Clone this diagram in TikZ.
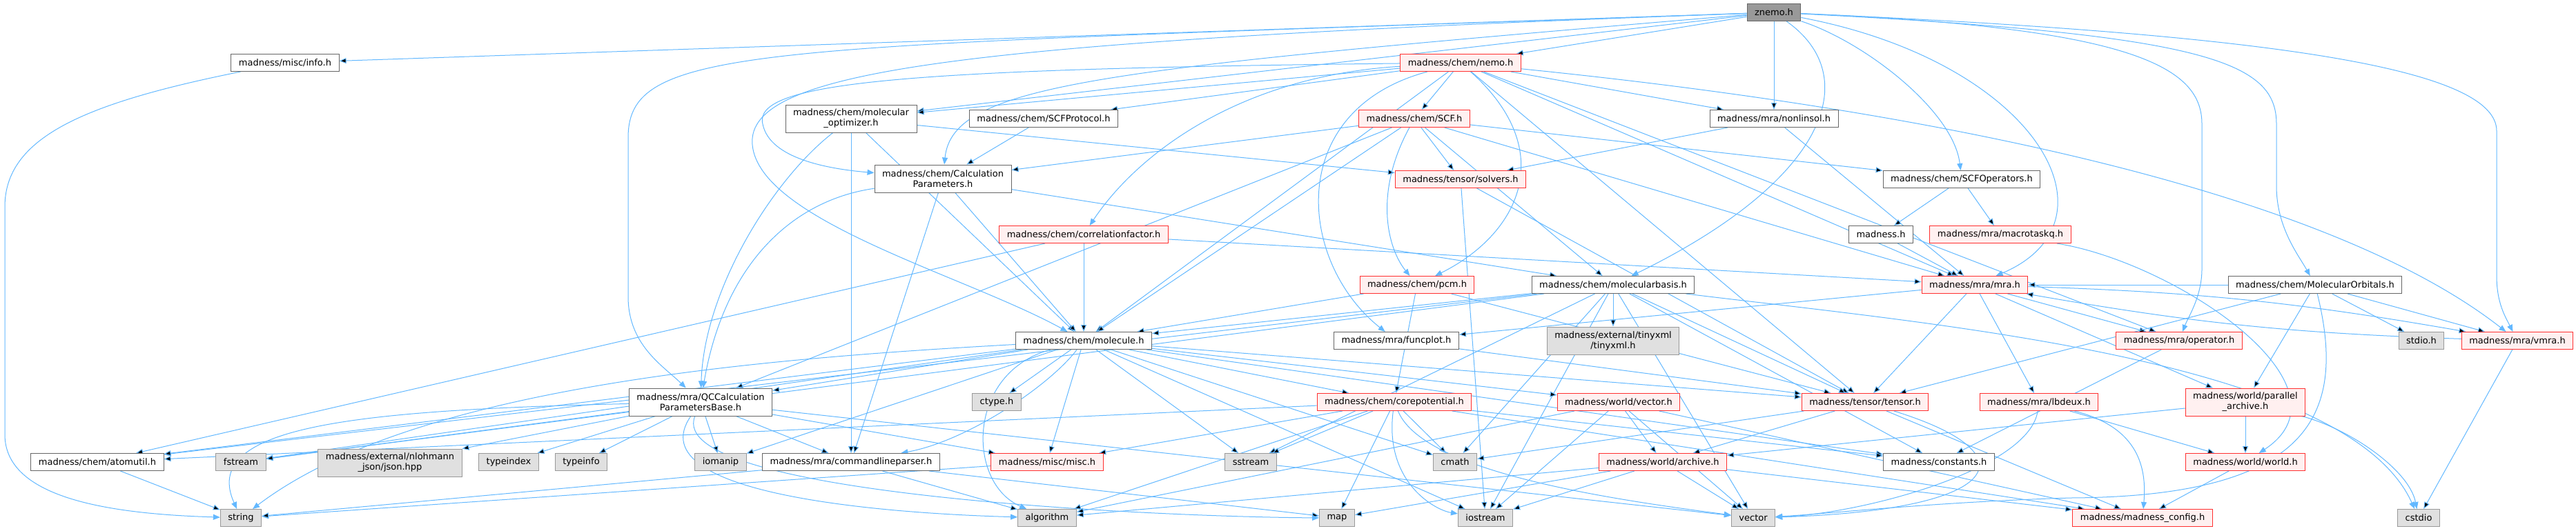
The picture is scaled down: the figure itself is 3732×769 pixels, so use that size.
\documentclass[tikz,border=0pt]{standalone}
\usepackage{fontspec}
\setmainfont{DejaVu Sans}
\usetikzlibrary{arrows.meta, backgrounds}
\definecolor{edgeBlue}{HTML}{63B8FF}
\definecolor{greyForty}{HTML}{666666}
\definecolor{greySixty}{HTML}{999999}
\definecolor{sysFill}{HTML}{E0E0E0}
\definecolor{truncRed}{HTML}{FF3030}
\definecolor{truncFill}{HTML}{FFF0F0}

\begin{document}
\begin{tikzpicture}[x=1pt, y=-1pt,
    file/.style={rectangle, draw=greyForty, fill=white, line width=1pt,
                 font=\fontsize{13}{15}\selectfont, inner xsep=11pt,
                 inner ysep=2pt, minimum height=25pt, align=center},
    sys/.style={file, draw=greySixty, fill=sysFill},
    trunc/.style={file, draw=truncRed, fill=truncFill},
    cur/.style={file, draw=greyForty, fill=greySixty},
    tall/.style={minimum height=40pt},
    dep/.style={draw=edgeBlue, line width=1pt, -{Triangle[length=10pt, width=8pt]}},
  ]
    \useasboundingbox (0,0) rectangle (3732,769);

    % rank 0 - 2
    \node[cur] (znemo) at (2570,18) {znemo.h};
    \node[file] (info) at (413,91) {madness/misc/info.h};
    \node[trunc] (nemo) at (2116,91) {madness/chem/nemo.h};
    \node[file, tall] (molopt) at (1233,172) {madness/chem/molecular\\\_optimizer.h};
    \node[file] (scfprot) at (1512,172) {madness/chem/SCFProtocol.h};
    \node[trunc] (scf) at (2049,172) {madness/chem/SCF.h};
    \node[file] (nonlin) at (2570,172) {madness/mra/nonlinsol.h};
    \node[file, tall] (calcpar) at (1366,259) {madness/chem/Calculation\\Parameters.h};
    \node[trunc] (solvers) at (2116,260) {madness/tensor/solvers.h};
    \node[file] (scfops) at (2842,260) {madness/chem/SCFOperators.h};
    \node[file] (madness) at (2725,340) {madness.h};
    \node[trunc] (macrotq) at (2898,340) {madness/mra/macrotaskq.h};
    \node[trunc] (corrfac) at (1570,340) {madness/chem/correlationfactor.h};

    % rank 3 - 5
    \node[trunc] (pcm) at (2053,413) {madness/chem/pcm.h};
    \node[file] (molbasis) at (2337,413) {madness/chem/molecularbasis.h};
    \node[trunc] (mra) at (2861,413) {madness/mra/mra.h};
    \node[file] (molorb) at (3354,413) {madness/chem/MolecularOrbitals.h};
    \node[file] (molecule) at (1570,494) {madness/chem/molecule.h};
    \node[file] (funcplot) at (2023,494) {madness/mra/funcplot.h};
    \node[sys, tall] (tinyxml) at (2337,494) {madness/external/tinyxml\\/tinyxml.h};
    \node[trunc] (operator) at (3157,494) {madness/mra/operator.h};
    \node[sys] (stdioh) at (3508,494) {stdio.h};
    \node[trunc] (vmra) at (3647,494) {madness/mra/vmra.h};
    \node[file, tall] (qccalc) at (1015,583) {madness/mra/QCCalculation\\ParametersBase.h};
    \node[sys] (ctype) at (1444,583) {ctype.h};
    \node[trunc] (corepot) at (2020,583) {madness/chem/corepotential.h};
    \node[trunc] (wvector) at (2345,583) {madness/world/vector.h};
    \node[trunc] (tensor) at (2702,583) {madness/tensor/tensor.h};
    \node[trunc] (lbdeux) at (2954,583) {madness/mra/lbdeux.h};
    \node[trunc, tall] (pararch) at (3253,583) {madness/world/parallel\\\_archive.h};

    % rank 6 - 7
    \node[file] (atomutil) at (141,670) {madness/chem/atomutil.h};
    \node[sys] (fstream) at (349,670) {fstream};
    \node[sys, tall] (json) at (565,671) {madness/external/nlohmann\\\_json/json.hpp};
    \node[sys] (typeindex) at (737,670) {typeindex};
    \node[sys] (typeinfo) at (842,670) {typeinfo};
    \node[sys] (iomanip) at (1044,670) {iomanip};
    \node[file] (cmdline) at (1233,670) {madness/mra/commandlineparser.h};
    \node[trunc] (misc) at (1517,670) {madness/misc/misc.h};
    \node[sys] (sstream) at (1812,670) {sstream};
    \node[sys] (cmath) at (2108,670) {cmath};
    \node[trunc] (archive) at (2409,670) {madness/world/archive.h};
    \node[file] (constants) at (2809,670) {madness/constants.h};
    \node[trunc] (world) at (3253,670) {madness/world/world.h};
    \node[sys] (string) at (349,751) {string};
    \node[sys] (algorithm) at (1517,751) {algorithm};
    \node[sys] (map) at (1937,751) {map};
    \node[sys] (iostream) at (2152,751) {iostream};
    \node[sys] (vector) at (2540,751) {vector};
    \node[trunc] (config) at (3104,751) {madness/madness\_config.h};
    \node[sys] (cstdio) at (3504,751) {cstdio};

    \begin{scope}[on background layer]
    % straight includes
    \path[dep] (znemo) edge (info) edge (nemo) edge (molopt) edge (nonlin);
    \path[dep] (nemo) edge (molopt) edge (scfprot) edge (scf) edge (nonlin)
      edge (molecule) edge (mra) edge (operator) edge (tensor);
    \path[dep] (molopt) edge (solvers) edge (molecule) edge (cmdline);
    \path[dep] (scfprot) edge (calcpar);
    \path[dep] (scf) edge (calcpar) edge (solvers) edge (scfops) edge (molbasis)
      edge (molecule) edge (qccalc) edge (mra);
    \path[dep] (nonlin) edge (solvers) edge (mra);
    \path[dep] (calcpar) edge (molecule) edge (molbasis) edge (cmdline);
    \path[dep] (solvers) edge (tensor) edge (iostream);
    \path[dep] (scfops) edge (madness) edge (macrotq);
    \path[dep] (madness) edge (mra);
    \path[dep] (corrfac) edge (molecule) edge (atomutil) edge (mra);
    \path[dep] (pcm) edge (molecule) edge (tensor) edge (corepot);
    \path[dep] (molbasis) edge (tinyxml) edge (molecule) edge (tensor) edge (atomutil)
      edge (fstream) edge (sstream) edge (cmath) edge (vector) edge (constants)
      edge (iostream);
    \path[dep] (mra) edge (tensor) edge (lbdeux) edge (operator)
      edge[bend left=4] (vmra) edge (funcplot) edge (pararch);
    \path[dep] (molorb) edge (stdioh) edge (vmra) edge (pararch) edge (tensor)
      edge (mra);
    \path[dep] (vmra) edge[bend left=4] (mra) edge (cstdio);
    \path[dep] (operator) edge (constants);
    \path[dep] (funcplot) edge (tensor);
    \path[dep] (molecule) edge (atomutil) edge (fstream) edge (qccalc) edge (iomanip)
      edge (ctype) edge (misc) edge (sstream) edge (corepot) edge (wvector)
      edge (tensor) edge (cmath) edge (constants) edge (iostream);
    \path[dep] (qccalc) edge (json) edge (typeindex) edge (typeinfo) edge (iomanip)
      edge (cmdline) edge (fstream) edge (misc) edge (vector);
    \path[dep] (corepot) edge (cmath) edge (map) edge (atomutil) edge (sstream)
      edge (constants) edge (algorithm) edge (misc) edge (config);
    \path[dep] (wvector) edge (archive) edge (iostream) edge (vector)
      edge (algorithm) edge (config);
    \path[dep] (tensor) edge (archive) edge (cmath) edge (config);
    \path[dep] (lbdeux) edge (world);
    \path[dep] (pararch) edge (world) edge (archive);
    \path[dep] (world) edge (config);
    \path[dep] (archive) edge (iostream) edge (map) edge (vector) edge (algorithm)
      edge (config);
    \path[dep] (misc) edge (string);
    \path[dep] (cmdline) edge (string) edge (algorithm) edge (map);
    \path[dep] (atomutil) edge (string);

    % routed includes
    \draw[dep] (info) .. controls (120,150) and (7,200) .. (7,300) -- (7,630)
      .. controls (7,720) and (150,745) .. (string);
    \draw[dep] (znemo) .. controls (1100,70) and (910,60) .. (910,200) -- (910,430)
      .. controls (910,500) and (960,530) .. (qccalc);
    \draw[dep] (znemo) .. controls (1400,60) and (1080,100) .. (1090,210)
      .. controls (1100,320) and (1400,400) .. (molecule);
    \draw[dep] (znemo) .. controls (1600,100) and (1380,120) .. (calcpar);
    \draw[dep] (nemo) .. controls (1300,100) and (1090,120) .. (1105,180)
      .. controls (1115,230) and (1200,245) .. (calcpar);
    \draw[dep] (znemo) .. controls (2700,110) and (2650,260) .. (molbasis);
    \draw[dep] (znemo) .. controls (2700,60) and (2830,160) .. (scfops);
    \draw[dep] (znemo) .. controls (2950,90) and (3080,320) .. (mra);
    \draw[dep] (znemo) .. controls (3100,40) and (3190,100) .. (3190,180) -- (3190,390)
      .. controls (3190,430) and (3170,460) .. (operator);
    \draw[dep] (znemo) .. controls (3200,50) and (3298,90) .. (3298,180) -- (3298,270)
      .. controls (3298,330) and (3330,370) .. (molorb);
    \draw[dep] (znemo) .. controls (3300,50) and (3617,100) .. (3617,190) -- (3617,400)
      .. controls (3617,440) and (3630,460) .. (vmra);
    \draw[dep] (nemo) .. controls (2900,170) and (3400,300) .. (vmra);
    \draw[dep] (nemo) .. controls (2260,220) and (2200,340) .. (pcm);
    \draw[dep] (nemo) .. controls (1800,110) and (1650,220) .. (corrfac);
    \draw[dep] (nemo) .. controls (1860,160) and (1880,380) .. (funcplot);
    \draw[dep] (scf) .. controls (1990,280) and (2010,360) .. (pcm);
    \draw[dep] (calcpar) .. controls (1150,290) and (1050,380) .. (qccalc);
    \draw[dep] (molopt) .. controls (1120,260) and (1020,420) .. (qccalc);
    \draw[dep] (macrotq) .. controls (3150,380) and (3420,560) .. (world);
    \draw[dep] (molorb) .. controls (3400,600) and (3350,720) .. (3000,722)
      .. controls (2800,728) and (2650,745) .. (vector);
    \draw[dep] (pararch) .. controls (3400,620) and (3490,680) .. (cstdio);
    \draw[dep] (molbasis) .. controls (2800,470) and (3400,520) .. (cstdio);
    \draw[dep] (tensor) .. controls (2950,660) and (2900,740) .. (vector);
    \draw[dep] (lbdeux) .. controls (2940,680) and (2700,745) .. (vector);
    \draw[dep] (lbdeux) .. controls (3100,620) and (3110,680) .. (config);
    \draw[dep] (molecule) .. controls (1400,540) and (1400,700) .. (algorithm);
    \draw[dep] (molecule) .. controls (1520,560) and (1400,640) .. (cmdline);
    \draw[dep] (molecule) .. controls (1100,520) and (600,560) .. (string);
    \draw[dep] (corepot) .. controls (2005,700) and (2080,740) .. (iostream);
    \draw[dep] (corepot) .. controls (2060,680) and (2300,720) .. (vector);
    \draw[dep] (qccalc) .. controls (920,720) and (1300,745) .. (algorithm);
    \draw[dep] (qccalc) .. controls (960,720) and (1700,750) .. (map);
    \draw[dep] (qccalc) .. controls (500,595) and (290,620) .. (string);
    \end{scope}
  \end{tikzpicture}
\end{document}
